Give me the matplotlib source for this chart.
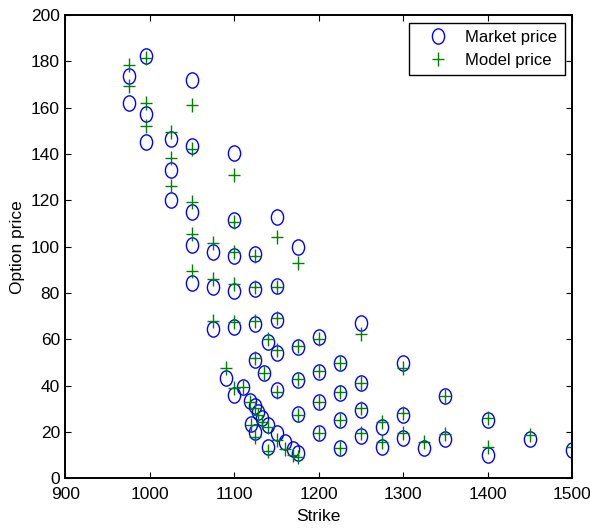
import numpy as np
import matplotlib
matplotlib.use('Agg')
import matplotlib.pyplot as plt
from matplotlib.path import Path
from matplotlib.transforms import Affine2D

plt.rcParams['font.family'] = ['Liberation Sans', 'DejaVu Sans']

# strike, market price, model price
strike = [975, 975,
          995, 995, 995,
          1025, 1025, 1025,
          1050, 1050, 1050, 1050, 1050,
          1075, 1075, 1075,
          1090,
          1100, 1100, 1100, 1100, 1100, 1100,
          1110,
          1119, 1124, 1128, 1133, 1120, 1124,
          1125, 1125, 1125, 1125,
          1135, 1140, 1140, 1140,
          1150, 1150, 1150, 1150, 1150, 1150,
          1160, 1170,
          1175, 1175, 1175, 1175, 1175,
          1200, 1200, 1200, 1200,
          1225, 1225, 1225, 1225,
          1250, 1250, 1250, 1250,
          1275, 1275,
          1300, 1300, 1300,
          1325,
          1350, 1350,
          1400, 1400,
          1450,
          1500]
market = [173.5, 162.0,
          182.4, 157.1, 145.1,
          146.7, 133.2, 120.2,
          171.8, 143.3, 115.0, 100.8, 84.5,
          97.6, 82.5, 64.4,
          43.2,
          140.4, 111.6, 96.0, 81.0, 65.2, 36.0,
          39.6,
          33.6, 31.4, 28.8, 26.2, 23.3, 19.9,
          96.9, 81.8, 66.7, 51.1,
          45.6, 59.0, 23.0, 13.7,
          113.0, 83.2, 68.4, 54.0, 38.1, 19.4,
          15.8, 12.7,
          99.8, 56.9, 42.5, 27.8, 11.1,
          60.9, 46.1, 32.8, 19.7,
          49.7, 37.0, 25.2, 13.2,
          67.0, 41.3, 29.5, 18.3,
          22.3, 13.4,
          49.7, 27.3, 17.3,
          13.0,
          35.7, 16.8,
          25.2, 10.1,
          16.8,
          12.2]
model = [178.5, 169.2,
         181.4, 162.2, 151.9,
         149.3, 138.5, 126.3,
         161.3, 142.1, 119.4, 105.5, 89.7,
         101.8, 86.0, 67.9,
         47.5,
         131.1, 110.8, 97.9, 83.8, 67.6, 38.9,
         39.6,
         33.0, 30.5, 27.5, 24.5, 23.0, 18.0,
         96.2, 82.8, 68.1, 51.8,
         45.4, 60.0, 22.3, 11.8,
         104.4, 82.8, 69.1, 55.4, 37.4, 16.5,
         12.7, 10.0,
         92.9, 57.1, 42.8, 27.3, 9.3,
         60.0, 46.5, 32.9, 19.4,
         50.0, 37.4, 25.2, 13.2,
         62.3, 41.3, 30.2, 19.7,
         24.5, 15.6,
         47.5, 28.1, 19.7,
         15.8,
         35.6, 19.1,
         25.9, 13.7,
         18.7,
         13.4]

# markers a bit taller than wide, like the reference
stretch = Affine2D().scale(1, 1.25)
ellipse = Path.unit_circle().transformed(stretch)
plus = Path([(-1, 0), (1, 0), (0, -1), (0, 1)],
            [Path.MOVETO, Path.LINETO, Path.MOVETO, Path.LINETO]).transformed(stretch)

fig = plt.figure(figsize=(5.9, 5.28), dpi=100)
ax = fig.add_axes([0.111, 0.094, 0.8585, 0.8775])

ax.plot(strike, market, linestyle='none', marker=ellipse, markersize=11,
        markerfacecolor='none', markeredgecolor='b', markeredgewidth=1.0, label='Market price')
ax.plot(strike, model, linestyle='none', marker=plus, markersize=10.5,
        markerfacecolor='none', markeredgecolor=(0, 0.5, 0), markeredgewidth=1.0, label='Model price')

ax.set_xlim(900, 1500)
ax.set_ylim(0, 200)
ax.set_xticks(np.arange(900, 1501, 100))
ax.set_yticks(np.arange(0, 201, 20))
ax.tick_params(direction='in', top=True, right=True, length=4.5, width=0.8, labelsize=12.5)
ax.tick_params(axis='x', pad=6)
ax.tick_params(axis='y', pad=4)
for s in ax.spines.values():
    s.set_linewidth(1.4)
ax.set_xlabel('Strike', fontsize=12.5, labelpad=5)
ax.set_ylabel('Option price', fontsize=12.5, labelpad=4)

leg = ax.legend(loc='upper right', fontsize=12, fancybox=False, edgecolor='k',
                framealpha=1, borderaxespad=0.45, handletextpad=0.3, borderpad=0.45,
                labelspacing=0.45, handlelength=2.6)
leg.get_frame().set_linewidth(1.0)

fig.savefig('out.png', dpi=100)
